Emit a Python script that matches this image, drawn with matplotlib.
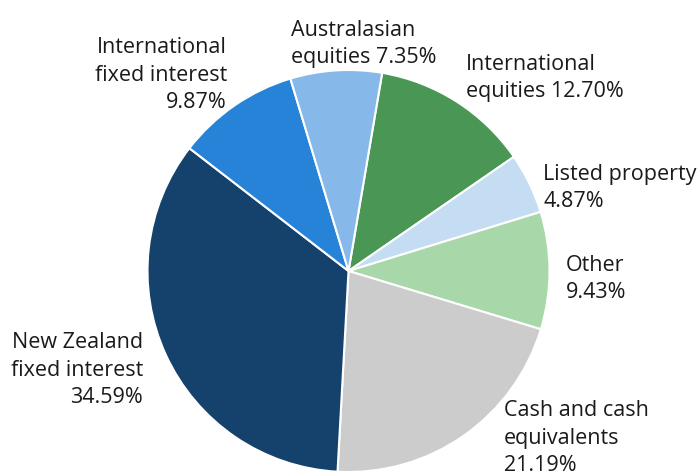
import matplotlib.pyplot as plt

# slice values, clockwise from the top
labels = ['International\nequities 12.70%', 'Listed property\n4.87%', 'Other\n9.43%',
          'Cash and cash\nequivalents\n21.19%', 'New Zealand\nfixed interest\n34.59%',
          'International\nfixed interest\n9.87%', 'Australasian\nequities 7.35%']
shares = [12.70, 4.87, 9.43, 21.19, 34.59, 9.87, 7.35]
colors = ['#4a9755', '#c4ddf3', '#a8d8a9', '#cccccd', '#15416d', '#2683d8', '#86b9ea']

# label anchor (x, baseline of last line, alignment) in pixel space
label_pos = [(466, 97, 'left'), (543, 207, 'left'), (566, 298, 'left'),
             (504, 471, 'left'), (143, 403, 'right'), (227, 108, 'right'),
             (291, 63, 'left')]

W, H = 698, 474
fig = plt.figure(figsize=(W / 100, H / 100), dpi=100)
ax = fig.add_axes([0, 0, 1, 1])

ax.pie(shares, colors=colors, startangle=80.35, counterclock=False,
       center=(348.5, H - 271), radius=201,
       wedgeprops=dict(edgecolor='white', linewidth=1.5))

for lab, (x, y, ha) in zip(labels, label_pos):
    ax.text(x, H - y, lab, ha=ha, va='baseline', fontsize=15.5,
            family='Open Sans', color='#1a1a1a', linespacing=1.4)

ax.set_xlim(0, W)
ax.set_ylim(0, H)
ax.set_aspect('equal')
ax.axis('off')

fig.savefig('out.png', dpi=100)
